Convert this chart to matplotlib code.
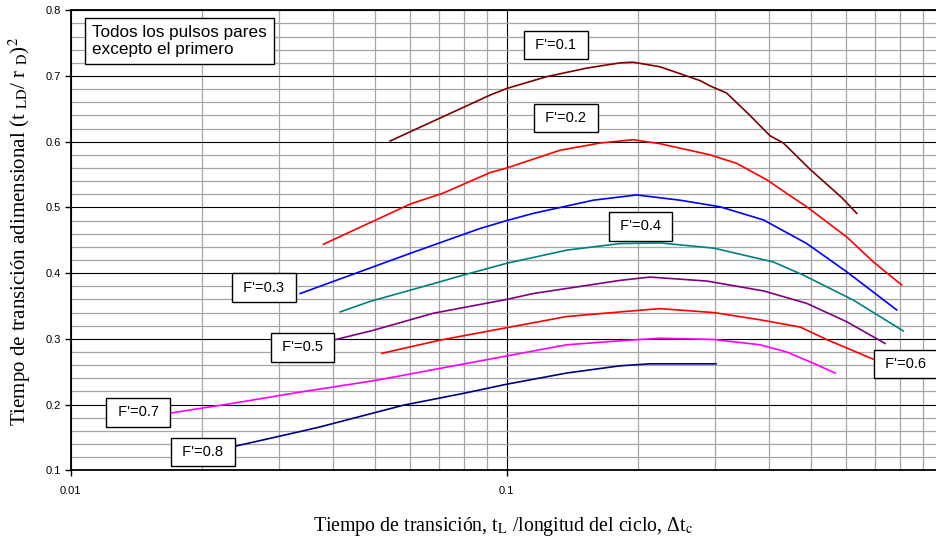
#!/usr/bin/env python3
"""Dimensionless transition time vs. transition time / cycle length, one curve per F'.

Writes out.png
"""

import matplotlib

matplotlib.use("Agg")
import matplotlib.pyplot as plt
import matplotlib.ticker as mticker

# F' curves: x = tL / cycle length, y = (tLD / rD)^2
F01_X = [0.054, 0.0703, 0.0794, 0.0916, 0.100, 0.1235, 0.1526, 0.182, 0.195, 0.2247,
         0.2776, 0.2926, 0.3195, 0.360, 0.4018, 0.431, 0.4963, 0.5866, 0.635]
F01_Y = [0.601, 0.636, 0.652, 0.671, 0.681, 0.699, 0.712, 0.720, 0.721, 0.714,
         0.693, 0.685, 0.674, 0.641, 0.609, 0.598, 0.558, 0.515, 0.491]

F02_X = [0.038, 0.060, 0.0716, 0.0916, 0.100, 0.1325, 0.1637, 0.195, 0.2247,
         0.2926, 0.337, 0.395, 0.4626, 0.4877, 0.6025, 0.6935, 0.805]
F02_Y = [0.444, 0.505, 0.522, 0.553, 0.560, 0.587, 0.598, 0.603, 0.597,
         0.580, 0.567, 0.542, 0.511, 0.501, 0.455, 0.417, 0.382]

F03_X = [0.0336, 0.060, 0.0869, 0.100, 0.1151, 0.158, 0.1987, 0.2497, 0.3084, 0.388,
         0.4877, 0.6025, 0.7843]
F03_Y = [0.369, 0.430, 0.468, 0.480, 0.491, 0.511, 0.519, 0.511, 0.501, 0.481,
         0.445, 0.402, 0.344]

F04_X = [0.0415, 0.0486, 0.0679, 0.0795, 0.100, 0.1373, 0.182, 0.2247, 0.2986, 0.4089,
         0.479, 0.6237, 0.8121]
F04_Y = [0.341, 0.357, 0.384, 0.397, 0.415, 0.435, 0.445, 0.446, 0.438, 0.417,
         0.397, 0.359, 0.312]

F05_X = [0.040, 0.0494, 0.0679, 0.100, 0.1151, 0.182, 0.2131, 0.2875, 0.388, 0.4877,
         0.6025, 0.7374]
F05_Y = [0.298, 0.313, 0.339, 0.360, 0.369, 0.389, 0.394, 0.388, 0.373, 0.354,
         0.326, 0.293]

F06_X = [0.0517, 0.0703, 0.100, 0.1373, 0.182, 0.2247, 0.2986, 0.3812, 0.4709, 0.5418,
         0.6935]
F06_Y = [0.278, 0.298, 0.317, 0.334, 0.341, 0.346, 0.340, 0.329, 0.318, 0.299,
         0.269]

F07_X = [0.0169, 0.0236, 0.0336, 0.0503, 0.100, 0.1373, 0.182, 0.2247, 0.2986, 0.3812,
         0.4386, 0.505, 0.5662]
F07_Y = [0.187, 0.202, 0.219, 0.237, 0.274, 0.291, 0.297, 0.301, 0.299, 0.291,
         0.280, 0.263, 0.248]

F08_X = [0.0236, 0.0336, 0.0373, 0.0579, 0.0795, 0.100, 0.1373, 0.182, 0.2131, 0.302]
F08_Y = [0.136, 0.159, 0.166, 0.199, 0.217, 0.231, 0.248, 0.259, 0.262, 0.262]

CURVE_LABELS = ["F'=0.1", "F'=0.2", "F'=0.3", "F'=0.4", "F'=0.5", "F'=0.6", "F'=0.7", "F'=0.8"]

CURVES = [
    (F01_X, F01_Y, "#800000"),
    (F02_X, F02_Y, "#FF0000"),
    (F03_X, F03_Y, "#0000FF"),
    (F04_X, F04_Y, "#008080"),
    (F05_X, F05_Y, "#800080"),
    (F06_X, F06_Y, "#FF0000"),
    (F07_X, F07_Y, "#FF00FF"),
    (F08_X, F08_Y, "#000080"),
]

# where each F' tag sits (data coords, box centre)
LABEL_POS = [
    (0.1297, 0.747),
    (0.1366, 0.636),
    (0.0277, 0.378),
    (0.2028, 0.471),
    (0.0340, 0.287),
    (0.8239, 0.262),
    (0.01429, 0.188),
    (0.0201, 0.128),
]

X_TICKS = [0.01, 0.1]

NOTE = "Todos los pulsos pares\nexcepto el primero"

SANS = "Liberation Sans"
SERIF = "Liberation Serif"


def style_axes(ax):
    ax.set_xscale("log")
    ax.set_xlim(0.01, 1.0)
    ax.set_ylim(0.1, 0.8)

    ax.xaxis.set_major_locator(mticker.FixedLocator(X_TICKS))
    ax.xaxis.set_minor_locator(mticker.LogLocator(base=10, subs=range(2, 10)))
    ax.xaxis.set_major_formatter(mticker.FuncFormatter(lambda v, _: f"{v:g}"))
    ax.xaxis.set_minor_formatter(mticker.NullFormatter())
    ax.yaxis.set_major_locator(mticker.MultipleLocator(0.1))
    ax.yaxis.set_minor_locator(mticker.MultipleLocator(0.02))
    ax.yaxis.set_major_formatter(mticker.FormatStrFormatter("%.1f"))

    ax.grid(which="minor", color="#a6a6a6", linewidth=0.9)
    ax.grid(which="major", color="#000000", linewidth=0.8)
    ax.set_axisbelow(True)

    ax.tick_params(which="major", direction="out", length=4, width=1,
                   labelsize=8, pad=3)
    ax.tick_params(axis="x", which="major", pad=7)
    ax.tick_params(which="minor", length=0)
    for lbl in ax.get_xticklabels() + ax.get_yticklabels():
        lbl.set_family(SANS)

    for side in ("left", "bottom", "top"):
        ax.spines[side].set_color("black")
        ax.spines[side].set_linewidth(1.3)


def main() -> None:
    plt.rcParams["mathtext.fontset"] = "stix"
    fig = plt.figure(figsize=(9.37, 5.41), dpi=100)
    # the right edge (x = 1) falls just past the figure border
    ax = fig.add_axes([0.0755, 0.1307, 0.9306, 0.8503])

    for (xs, ys, color) in CURVES:
        ax.plot(xs, ys, color=color, linewidth=1.2, zorder=3)

    style_axes(ax)

    box = dict(boxstyle="square,pad=0.5", facecolor="white", edgecolor="black", linewidth=1.0)
    for text, (x, y) in zip(CURVE_LABELS, LABEL_POS):
        ax.text(x, y, f" {text} ", ha="center", va="center", fontsize=10.5,
                family=SANS, bbox=box, zorder=5)

    ax.text(0.01119, 0.7776, NOTE, ha="left", va="top", fontsize=12.3,
            family=SANS, linespacing=1.15,
            bbox=dict(boxstyle="square,pad=0.4", facecolor="white",
                      edgecolor="black", linewidth=1.0), zorder=5)

    fig.text(0.021, 0.572,
             r"Tiempo de transición adimensional (t $_{\rm LD}$/ r $_{\rm D}$)$^{2}$",
             rotation=90, ha="center", va="center", fontsize=15, family=SERIF)
    fig.text(0.537, 0.026,
             r"Tiempo de transición, t$_{\rm L}$ /longitud del ciclo, Δt$_{\rm c}$",
             ha="center", va="center", fontsize=14.3, family=SERIF)

    fig.savefig("out.png", dpi=100)
    plt.close(fig)


if __name__ == "__main__":
    main()
